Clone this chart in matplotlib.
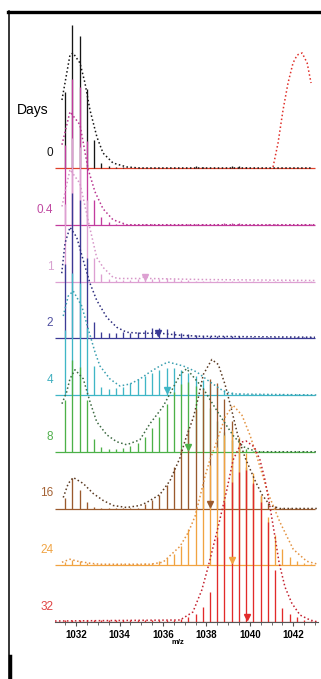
import numpy as np
import matplotlib
matplotlib.use('Agg')
import matplotlib.pyplot as plt
from matplotlib.lines import Line2D

plt.rcParams['font.family'] = ['Liberation Sans', 'DejaVu Sans']

# dias de marcaje
days = ['0', '0.4', '1', '2', '4', '8', '16', '24', '32']

# posiciones isotopicas (carga 3+)
m0 = 1031.50
n_iso = 35

# alturas de los picos por dia (indice k -> m0 + k/3)
sticks = {
    '0':   [76, 143, 132, 79, 28, 5, 2, 1, 1, 0, 0, 0, 0, 0, 0, 0, 0, 0, 2, 1, 0, 0, 0, 2, 2, 1, 0, 0, 0, 0, 0, 0, 0, 0, 0],
    '0.4': [80, 146, 138, 84, 25, 8, 3, 1, 1, 1, 1, 1, 1, 1, 1, 1, 1, 1, 1, 1, 1, 1, 2, 2, 2, 1, 1, 1, 1, 1, 1, 1, 1, 1, 1],
    '1':   [78, 144, 135, 82, 24, 8, 3, 2, 2, 2, 3, 3, 3, 3, 4, 3, 2, 2, 1, 1, 1, 1, 1, 1, 1, 1, 1, 1, 1, 1, 1, 1, 1, 1, 1],
    '2':   [74, 145, 138, 80, 16, 6, 5, 5, 6, 5, 6, 8, 10, 10, 9, 7, 5, 4, 3, 2, 2, 2, 2, 2, 2, 1, 1, 1, 1, 1, 1, 1, 1, 1, 1],
    '4':   [65, 122, 112, 67, 29, 8, 6, 7, 8, 12, 16, 19, 22, 25, 27, 27, 25, 22, 19, 15, 11, 8, 5, 3, 2, 1, 1, 1, 1, 1, 1, 1, 1, 1, 1],
    '8':   [52, 92, 85, 52, 13, 5, 3, 3, 4, 6, 9, 15, 24, 35, 48, 60, 68, 70, 66, 56, 44, 31, 20, 12, 6, 3, 1, 1, 1, 1, 1, 1, 1, 1, 1],
    '16':  [11, 31, 19, 7, 2, 1, 1, 1, 1, 1, 1, 5, 9, 14, 24, 42, 60, 80, 100, 120, 130, 126, 110, 88, 64, 42, 25, 13, 6, 3, 1, 1, 1, 1, 1],
    '24':  [3, 5, 4, 2, 1, 1, 1, 1, 1, 1, 1, 2, 2, 4, 7, 11, 19, 36, 56, 78, 100, 118, 130, 135, 128, 112, 92, 70, 48, 30, 16, 8, 4, 2, 1],
    '32':  [2, 2, 2, 2, 2, 2, 2, 2, 2, 2, 2, 2, 2, 2, 2, 2, 3, 5, 8, 15, 30, 85, 120, 140, 150, 152, 139, 120, 100, 52, 14, 8, 5, 2, 1],
}

# envolventes (m/z, altura)
env_mz = {
    '0':   [1031.35, 1031.72, 1031.86, 1032.18, 1032.41, 1032.64, 1032.96, 1033.24, 1033.70, 1034.34, 1034.94, 1042.82],
    '0.4': [1031.35, 1031.72, 1032.18, 1032.55, 1032.87, 1033.24, 1033.70, 1034.34, 1043.00],
    '1':   [1031.35, 1031.72, 1032.18, 1032.64, 1032.95, 1033.25, 1033.71, 1034.02, 1034.94, 1035.17, 1035.40, 1037.71, 1043.00],
    '2':   [1031.34, 1031.49, 1031.72, 1032.03, 1032.33, 1032.64, 1032.95, 1033.41, 1033.87, 1034.33, 1034.94, 1035.86, 1036.79, 1037.71, 1043.00],
    '4':   [1031.41, 1031.64, 1031.87, 1032.26, 1032.56, 1032.87, 1033.10, 1033.56, 1034.02, 1034.48, 1034.94, 1035.40, 1035.86, 1036.23, 1036.94, 1037.56, 1038.17, 1038.78, 1039.24, 1043.14],
    '8':   [1031.35, 1031.57, 1031.72, 1031.95, 1032.33, 1032.64, 1032.95, 1033.41, 1033.87, 1034.33, 1034.94, 1035.40, 1036.00, 1036.79, 1037.09, 1037.86, 1038.63, 1039.24, 1039.70, 1040.32, 1043.14],
    '16':  [1031.41, 1031.64, 1031.87, 1032.33, 1032.79, 1033.25, 1033.71, 1034.33, 1034.94, 1035.25, 1035.86, 1036.33, 1036.79, 1037.02, 1037.40, 1037.63, 1037.86, 1038.25, 1038.55, 1038.86, 1039.17, 1039.47, 1039.78, 1040.24, 1040.56, 1040.93, 1041.39, 1043.14],
    '24':  [1031.35, 1031.72, 1032.08, 1032.64, 1033.10, 1035.40, 1036.00, 1036.79, 1037.17, 1037.48, 1037.71, 1037.94, 1038.17, 1038.40, 1038.86, 1039.23, 1039.64, 1040.01, 1040.32, 1040.84, 1041.39, 1042.00, 1042.62, 1043.14],
    '32':  [1031.03, 1036.79, 1037.38, 1037.79, 1038.08, 1038.31, 1038.54, 1038.94, 1039.23, 1039.63, 1039.83, 1040.21, 1040.47, 1040.70, 1040.93, 1041.16, 1041.35, 1041.62, 1041.93, 1042.31, 1042.77, 1043.14],
}
env_h = {
    '0':   [68, 113, 115, 105, 85, 58, 31, 15, 5, 1, 0, 0],
    '0.4': [80, 113, 100, 56, 33, 16, 5, 0, 0],
    '1':   [75, 112, 98, 53, 24, 14, 4, 3, 3, 5, 3, 2, 1],
    '2':   [65, 95, 111, 101, 78, 55, 38, 21, 11, 6, 5, 5, 3, 2, 1],
    '4':   [79, 99, 104, 89, 66, 43, 29, 16, 9, 11, 16, 23, 29, 33, 29, 23, 13, 4, 1, 0],
    '8':   [48, 60, 73, 82, 73, 50, 30, 17, 10, 7, 12, 28, 45, 77, 83, 63, 36, 16, 5, 0, 0],
    '16':  [11, 25, 31, 25, 15, 8, 3, 1, 3, 6, 14, 28, 51, 68, 91, 111, 134, 149, 144, 124, 98, 71, 51, 28, 14, 3, 0, 0],
    '24':  [3, 6, 4, 2, 1, 1, 3, 19, 33, 49, 69, 89, 106, 119, 148, 160, 150, 130, 109, 72, 43, 16, 4, 1],
    '32':  [1, 2, 10, 32, 55, 75, 95, 132, 162, 180, 181, 175, 162, 142, 115, 85, 59, 35, 19, 7, 2, 0],
}

# envolvente teorica (totalmente marcado) en el dia 0
teo_mz = [1041.07, 1041.30, 1041.53, 1041.76, 1041.99, 1042.18, 1042.41, 1042.64, 1042.82]
teo_h = [1, 25, 58, 85, 105, 113, 115, 105, 85]

# centroides (triangulos)
centroide = {'1': 1035.17, '2': 1035.79, '4': 1036.17, '8': 1037.17,
             '16': 1038.17, '24': 1039.20, '32': 1039.86}

colores = {'0': '#151515', '0.4': '#c23c9e', '1': '#dda0d2', '2': '#3b3b96',
           '4': '#3fb6c6', '8': '#4cb148', '16': '#9a5a2e', '24': '#f1a341',
           '32': '#e22a2a'}
colores_env = {'0': '#151515', '0.4': '#b8338f', '1': '#d796c8', '2': '#2e2e7e',
               '4': '#3a9fb0', '8': '#3d6a42', '16': '#5a3a22', '24': '#e39240',
               '32': '#c3202e'}
colores_txt = {'0': '#151515', '0.4': '#c04aa2', '1': '#d8a2d0', '2': '#5050a0',
               '4': '#42b0c0', '8': '#52b04e', '16': '#a46234', '24': '#f0a444',
               '32': '#e04444'}

W, H = 321, 679
fig = plt.figure(figsize=(W / 100, H / 100), dpi=100)
ax = fig.add_axes([55 / W, (H - 622) / H, 263 / W, 607 / H])
ax.set_xlim(1031.03, 1043.14)
ax.set_ylim(0, 607)

sep = 56.75
mk = m0 + np.arange(n_iso) / 3.0
xmax_base = 1043.0

for i, d in enumerate(days):
    off = (len(days) - 1 - i) * sep
    h = np.array(sticks[d], dtype=float)
    sel = h > 0
    ax.hlines(off, 1031.03, xmax_base, color=colores[d] if d != '0' else '#e0402a', lw=0.9, zorder=2)
    ax.vlines(mk[sel], off, off + h[sel], color=colores[d], lw=0.95, zorder=2 + i * 0.1)

for i, d in enumerate(days):
    off = (len(days) - 1 - i) * sep
    ax.plot(env_mz[d], off + np.array(env_h[d]), color=colores_env[d], lw=1.1,
            ls=(0, (1, 1.6)), zorder=4)
    if d in centroide:
        ax.plot(centroide[d], off + 5, marker='v', ms=5, color=colores[d],
                mec=colores[d], zorder=5)
    ax.text(1030.95, off + 15, d, color=colores_txt[d], fontsize=8.5,
            ha='right', va='center', clip_on=False)

off0 = (len(days) - 1) * sep
ax.plot(teo_mz, off0 + np.array(teo_h), color='#e0302a', lw=1.1,
        ls=(0, (1, 1.6)), zorder=4)

ax.text(1030.02, 512, 'Days', fontsize=10, ha='center', va='center', clip_on=False)

for s in ['top', 'right', 'left']:
    ax.spines[s].set_visible(False)
ax.spines['bottom'].set_color('#555555')
ax.spines['bottom'].set_linewidth(0.8)
ax.set_yticks([])
ax.set_xticks([1032, 1034, 1036, 1038, 1040, 1042])
ax.set_xticks(np.arange(1031.5, 1043.1, 0.5), minor=True)
ax.tick_params(axis='x', which='major', length=3, width=0.8, color='#555555',
               labelsize=7, pad=2.5)
ax.tick_params(axis='x', which='minor', length=2, width=0.6, color='#555555')
for lab in ax.get_xticklabels():
    lab.set_fontweight('bold')
ax.text(1036.7, -20, 'm/z', fontsize=5.5, fontweight='bold', ha='center', va='center',
        clip_on=False)

# marco
fig.add_artist(Line2D([8 / W, 1.0], [1 - 12 / H, 1 - 12 / H], color='black', lw=2.4,
                      transform=fig.transFigure))
fig.add_artist(Line2D([8.5 / W, 8.5 / W], [1 - 11 / H, 0], color='black', lw=1.1,
                      transform=fig.transFigure))
fig.add_artist(Line2D([10 / W, 10 / W], [1 - 656 / H, 0], color='black', lw=2.5,
                      transform=fig.transFigure))

fig.savefig('out.png', dpi=100)
